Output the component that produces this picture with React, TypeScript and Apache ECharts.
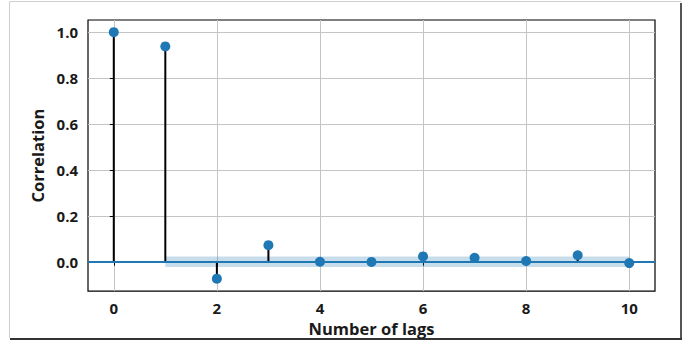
import React, { useEffect, useRef } from "react";
import * as echarts from "echarts";

// Partial autocorrelation per lag
const lags = [0, 1, 2, 3, 4, 5, 6, 7, 8, 9, 10];
const pacfValues = [1.0, 0.938, -0.074, 0.072, 0.0, -0.001, 0.023, 0.017, 0.003, 0.028, -0.006];
// 95% confidence bound (symmetric around zero) for lags 1..10
const confBound = 0.023;
const confStart = 1;
const confEnd = 10;

const xTicks = [0, 2, 4, 6, 8, 10];
const yTicks = [0, 0.2, 0.4, 0.6, 0.8, 1.0];

const BLUE = "#1f77b4";
const FONT = "Open Sans";

export default function App() {
  const ref = useRef<HTMLDivElement>(null);

  useEffect(() => {
    if (!ref.current) return;
    const chart = echarts.init(ref.current, undefined, { renderer: "svg" });

    const points = lags.map((l, i) => [l, pacfValues[i]]);

    chart.setOption({
      animation: false,
      backgroundColor: "#ffffff",
      grid: {
        left: 88,
        top: 20,
        right: 37,
        bottom: 50,
        show: true,
        borderColor: "#000",
        borderWidth: 1.2,
        backgroundColor: "transparent",
      },
      xAxis: {
        type: "value",
        min: -0.5,
        max: 10.5,
        name: "Number of lags",
        nameLocation: "middle",
        nameGap: 27,
        nameTextStyle: { fontFamily: FONT, fontWeight: "bold", fontSize: 16.5, color: "#1a1a1a" },
        axisLine: { show: false },
        axisTick: { show: true, inside: false, length: 4, customValues: xTicks, lineStyle: { color: "#000", width: 1 } },
        axisLabel: {
          customValues: xTicks,
          margin: 9,
          fontFamily: FONT,
          fontWeight: "bold",
          fontSize: 15,
          color: "#1a1a1a",
          formatter: (v: number) => String(v),
        },
        splitLine: { show: true, lineStyle: { color: "#c4c4c4", width: 1 } },
      },
      yAxis: {
        type: "value",
        min: -0.128,
        max: 1.053,
        name: "Correlation",
        nameLocation: "middle",
        nameRotate: 90,
        nameGap: 40,
        nameTextStyle: { fontFamily: FONT, fontWeight: "bold", fontSize: 16.5, color: "#1a1a1a" },
        axisLine: { show: false },
        axisTick: { show: true, inside: false, length: 4, customValues: yTicks, lineStyle: { color: "#000", width: 1 } },
        axisLabel: {
          customValues: yTicks,
          margin: 10,
          fontFamily: FONT,
          fontWeight: "bold",
          fontSize: 15,
          color: "#1a1a1a",
          formatter: (v: number) => v.toFixed(1),
        },
        splitLine: { show: true, lineStyle: { color: "#c4c4c4", width: 1 } },
      },
      graphic: [
        // surrounding frame of the figure
        { type: "line", shape: { x1: 9.5, y1: 1.5, x2: 681, y2: 1.5 }, style: { stroke: "#cfcfcf", lineWidth: 1 } },
        { type: "line", shape: { x1: 9.5, y1: 1.5, x2: 9.5, y2: 338 }, style: { stroke: "#cfcfcf", lineWidth: 1 } },
        { type: "line", shape: { x1: 681, y1: 3, x2: 681, y2: 340 }, style: { stroke: "#555", lineWidth: 2 } },
        { type: "line", shape: { x1: 10, y1: 339, x2: 682, y2: 339 }, style: { stroke: "#333", lineWidth: 2 } },
      ],
      series: [
        {
          type: "custom",
          z: 2,
          data: points,
          renderItem: (params: any, api: any) => {
            const x = api.value(0);
            const v = api.value(1);
            const p0 = api.coord([x, 0]);
            const p1 = api.coord([x, v]);
            return {
              type: "line",
              shape: { x1: p0[0], y1: p0[1], x2: p1[0], y2: p1[1] },
              style: { stroke: "#000", lineWidth: 2 },
            };
          },
          markArea: {
            silent: true,
            itemStyle: { color: "rgba(31,119,180,0.25)" },
            data: [[{ xAxis: confStart, yAxis: -confBound }, { xAxis: confEnd, yAxis: confBound }]],
          },
          markLine: {
            silent: true,
            symbol: "none",
            label: { show: false },
            lineStyle: { color: BLUE, width: 1.8, type: "solid" },
            data: [{ yAxis: 0 }],
          },
        },
        {
          type: "scatter",
          z: 3,
          data: points,
          symbol: "circle",
          symbolSize: 10,
          itemStyle: { color: BLUE, opacity: 1 },
        },
      ],
    });

    return () => chart.dispose();
  }, []);

  return (
    <div
      ref={ref}
      style={{ position: "fixed", left: 0, top: 0, width: 692, height: 342, background: "#fff" }}
    />
  );
}
